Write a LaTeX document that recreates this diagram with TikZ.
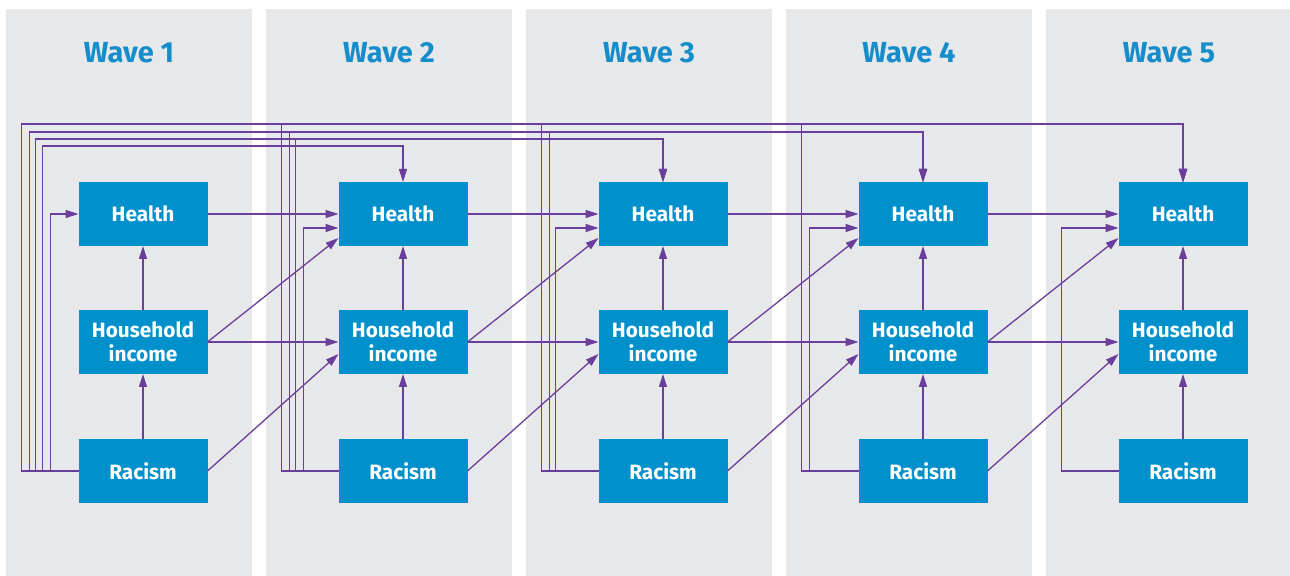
\documentclass[tikz,border=0pt]{standalone}
\usepackage{fontspec}
\setmainfont{Fira Sans}
\usepackage{tikz}
\usetikzlibrary{positioning,arrows.meta}

\definecolor{panelgray}{HTML}{E7E8EA}
\definecolor{boxblue}{HTML}{0090CB}
\definecolor{titleblue}{HTML}{168DCB}
\definecolor{linkpurple}{HTML}{6A3F9C}

\begin{document}
\begin{tikzpicture}[x=0.5pt, y=-0.5pt,
    var/.style={rectangle, fill=boxblue, text=white, minimum width=64.5pt, minimum height=32pt,
        inner sep=1pt, outer sep=0pt, align=center, font=\bfseries\fontsize{10.4}{12}\selectfont},
    wave/.style={text=titleblue, font=\bfseries\fontsize{14.5}{16}\selectfont},
    link/.style={draw=linkpurple, line width=0.65pt, -{Triangle[length=6.5pt,width=4pt]}}]
    \useasboundingbox (0,0) rectangle (1290,576);
    \fill[white] (0,0) rectangle (1290,576);

    % grey panels behind each wave
    \fill[panelgray] (6,9) rectangle (252,576);
    \fill[panelgray] (266,9) rectangle (512,576);
    \fill[panelgray] (526,9) rectangle (772,576);
    \fill[panelgray] (786,9) rectangle (1032,576);
    \fill[panelgray] (1046,9) rectangle (1290,576);

    % Wave 1
    \node (health1) [var] at (143,214) {Health};
    \node (hi1) [var, below=32pt of health1] {Household\\income};
    \node (rac1) [var, below=32.5pt of hi1] {Racism};
    \node (wave1) [wave] at (129,53) {Wave 1};

    % Wave 2
    \node (health2) [var, right=65.5pt of health1] {Health};
    \node (hi2) [var, below=32pt of health2] {Household\\income};
    \node (rac2) [var, below=32.5pt of hi2] {Racism};
    \node (wave2) [wave] at (389,53) {Wave 2};

    % Wave 3
    \node (health3) [var, right=65.5pt of health2] {Health};
    \node (hi3) [var, below=32pt of health3] {Household\\income};
    \node (rac3) [var, below=32.5pt of hi3] {Racism};
    \node (wave3) [wave] at (649,53) {Wave 3};

    % Wave 4
    \node (health4) [var, right=65.5pt of health3] {Health};
    \node (hi4) [var, below=32pt of health4] {Household\\income};
    \node (rac4) [var, below=32.5pt of hi4] {Racism};
    \node (wave4) [wave] at (909,53) {Wave 4};

    % Wave 5
    \node (health5) [var, right=65.5pt of health4] {Health};
    \node (hi5) [var, below=32pt of health5] {Household\\income};
    \node (rac5) [var, below=32.5pt of hi5] {Racism};
    \node (wave5) [wave] at (1169,53) {Wave 5};

    % within a wave
    \draw [link] (rac1) -- (hi1);
    \draw [link] (hi1) -- (health1);
    \draw [link] (rac2) -- (hi2);
    \draw [link] (hi2) -- (health2);
    \draw [link] (rac3) -- (hi3);
    \draw [link] (hi3) -- (health3);
    \draw [link] (rac4) -- (hi4);
    \draw [link] (hi4) -- (health4);
    \draw [link] (rac5) -- (hi5);
    \draw [link] (hi5) -- (health5);

    % from one wave to the next
    \draw [link] (health1) -- (health2);
    \draw [link] (hi1) -- (hi2);
    \draw [link] (hi1.east) -- ([yshift=-12pt]health2.west);
    \draw [link] (rac1.east) -- ([yshift=-6pt]hi2.west);
    \draw [link] (health2) -- (health3);
    \draw [link] (hi2) -- (hi3);
    \draw [link] (hi2.east) -- ([yshift=-12pt]health3.west);
    \draw [link] (rac2.east) -- ([yshift=-6pt]hi3.west);
    \draw [link] (health3) -- (health4);
    \draw [link] (hi3) -- (hi4);
    \draw [link] (hi3.east) -- ([yshift=-12pt]health4.west);
    \draw [link] (rac3.east) -- ([yshift=-6pt]hi4.west);
    \draw [link] (health4) -- (health5);
    \draw [link] (hi4) -- (hi5);
    \draw [link] (hi4.east) -- ([yshift=-12pt]health5.west);
    \draw [link] (rac4.east) -- ([yshift=-6pt]hi5.west);

    % racism to health, same and later waves
    \draw [link] (rac1.west) -- ++(-28,0) |- (health1.west);
    \draw [link] (rac1.west) -- ++(-36,0) |- ([yshift=18pt]health2.north) -- (health2.north);
    \draw [link] (rac1.west) -- ++(-43,0) |- ([yshift=21.5pt]health3.north) -- (health3.north);
    \draw [link] (rac1.west) -- ++(-49,0) |- ([yshift=25pt]health4.north) -- (health4.north);
    \draw [link] (rac1.west) -- ++(-57,0) |- ([yshift=29pt]health5.north) -- (health5.north);

    \draw [link] (rac2.west) -- ++(-35,0) |- ([yshift=-7pt]health2.west);
    \draw [link] (rac2.west) -- ++(-43,0) |- ([yshift=21.5pt]health3.north) -- (health3.north);
    \draw [link] (rac2.west) -- ++(-49,0) |- ([yshift=25pt]health4.north) -- (health4.north);
    \draw [link] (rac2.west) -- ++(-57,0) |- ([yshift=29pt]health5.north) -- (health5.north);

    \draw [link] (rac3.west) -- ++(-43,0) |- ([yshift=-7pt]health3.west);
    \draw [link] (rac3.west) -- ++(-49,0) |- ([yshift=25pt]health4.north) -- (health4.north);
    \draw [link] (rac3.west) -- ++(-57,0) |- ([yshift=29pt]health5.north) -- (health5.north);

    \draw [link] (rac4.west) -- ++(-49,0) |- ([yshift=-7pt]health4.west);
    \draw [link] (rac4.west) -- ++(-57,0) |- ([yshift=29pt]health5.north) -- (health5.north);

    \draw [link] (rac5.west) -- ++(-57,0) |- ([yshift=-7pt]health5.west);
\end{tikzpicture}
\end{document}
